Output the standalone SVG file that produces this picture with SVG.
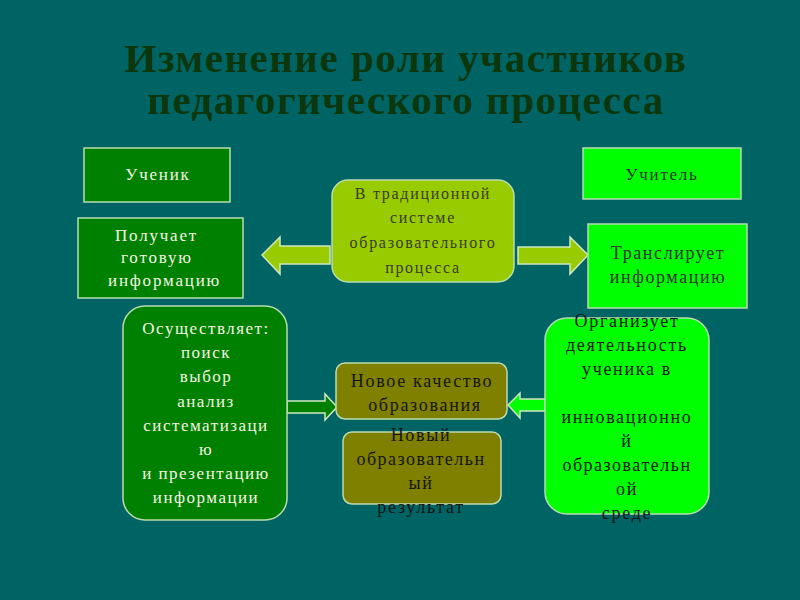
<svg xmlns="http://www.w3.org/2000/svg" width="800" height="600" viewBox="0 0 800 600">
<style>
text{font-family:"Liberation Serif","DejaVu Serif",serif;text-anchor:middle}
.title{font-size:41px;font-weight:bold;fill:#0c360c;letter-spacing:1.5px}
.box{stroke:#b8dcb0;stroke-width:1.5}
.dg{fill:#008000}
.lg{fill:#00ff00}
.yg{fill:#99cc00}
.ol{fill:#808000}
.wt{fill:#f4f4e4;font-size:17px;letter-spacing:1.5px}
.dk{fill:#151515;font-size:18px;letter-spacing:1.7px}
.gr{fill:#3a3a2a;font-size:16px;letter-spacing:1.7px}
.arr{stroke:#cfe8c0;stroke-width:1.5}
</style>
<rect width="800" height="600" fill="#006464"/>
<g id="title">
<text class="title" x="406" y="72">Изменение роли участников</text>
<text class="title" x="406" y="114">педагогического процесса</text>
</g>
<g id="connectors">
<polygon class="arr yg" points="262,255 280,237 280,246 330,246 330,264 280,264 280,274"/>
<polygon class="arr yg" points="518,247 570,247 570,237 588,255 570,274 570,264 518,264"/>
<polygon class="arr dg" points="287,401 325,401 325,394 337,407 325,420 325,413 287,413"/>
<polygon class="arr lg" points="508,405 520,393 520,399 545,399 545,411 520,411 520,418"/>
</g>
<g id="uchenik">
<rect class="box dg" x="84" y="148" width="146" height="54"/>
<text class="wt" x="158" y="180" style="letter-spacing:1.8px">Ученик</text>
</g>
<g id="poluchaet">
<rect class="box dg" x="78" y="218" width="165" height="80"/>
<text class="wt" style="text-anchor:start;letter-spacing:1.8px" x="115" y="241">Получает</text>
<text class="wt" style="text-anchor:start;letter-spacing:1.8px" x="121" y="263">готовую</text>
<text class="wt" style="text-anchor:start;letter-spacing:1.8px" x="108" y="286">информацию</text>
</g>
<g id="tradition">
<rect class="box yg" x="332" y="180" width="182" height="102" rx="16"/>
<text class="gr" x="423" y="199">В традиционной</text>
<text class="gr" x="423" y="223">системе</text>
<text class="gr" x="423" y="248">образовательного</text>
<text class="gr" x="423" y="273">процесса</text>
</g>
<g id="uchitel">
<rect class="box lg" x="583" y="148" width="158" height="51"/>
<text class="dk" x="662" y="180" style="font-size:17px;fill:#333">Учитель</text>
</g>
<g id="transliruet">
<rect class="box lg" x="588" y="224" width="159" height="84"/>
<text class="dk" x="668" y="259" style="fill:#333;letter-spacing:1.6px">Транслирует</text>
<text class="dk" x="668" y="283" style="fill:#333;letter-spacing:1.6px">информацию</text>
</g>
<g id="osushestvlyaet">
<rect class="box dg" x="123" y="306" width="164" height="214" rx="22"/>
<text class="wt" x="206" y="334">Осуществляет:</text>
<text class="wt" x="206" y="358">поиск</text>
<text class="wt" x="206" y="382">выбор</text>
<text class="wt" x="206" y="407">анализ</text>
<text class="wt" x="206" y="431">систематизаци</text>
<text class="wt" x="206" y="455">ю</text>
<text class="wt" x="206" y="479">и презентацию</text>
<text class="wt" x="206" y="503">информации</text>
</g>
<g id="novoe-kachestvo">
<rect class="box ol" x="336" y="363" width="171" height="56" rx="9"/>
<text class="dk" x="422" y="387">Новое качество</text>
<text class="dk" x="425" y="411">образования</text>
</g>
<g id="novyi-rezultat">
<rect class="box ol" x="343" y="432" width="158" height="72" rx="9"/>
<text class="dk" x="421" y="441">Новый</text>
<text class="dk" x="421" y="465" style="letter-spacing:1.5px">образовательн</text>
<text class="dk" x="421" y="489">ый</text>
<text class="dk" x="421" y="513">результат</text>
</g>
<g id="organizuet">
<rect class="box lg" x="545" y="318" width="164" height="196" rx="22"/>
<text class="dk" x="627" y="327">Организует</text>
<text class="dk" x="627" y="351">деятельность</text>
<text class="dk" x="627" y="375">ученика в</text>
<text class="dk" x="627" y="423">инновационно</text>
<text class="dk" x="627" y="447">й</text>
<text class="dk" x="627" y="471" style="letter-spacing:1.5px">образовательн</text>
<text class="dk" x="627" y="495">ой</text>
<text class="dk" x="627" y="519">среде</text>
</g>
</svg>
